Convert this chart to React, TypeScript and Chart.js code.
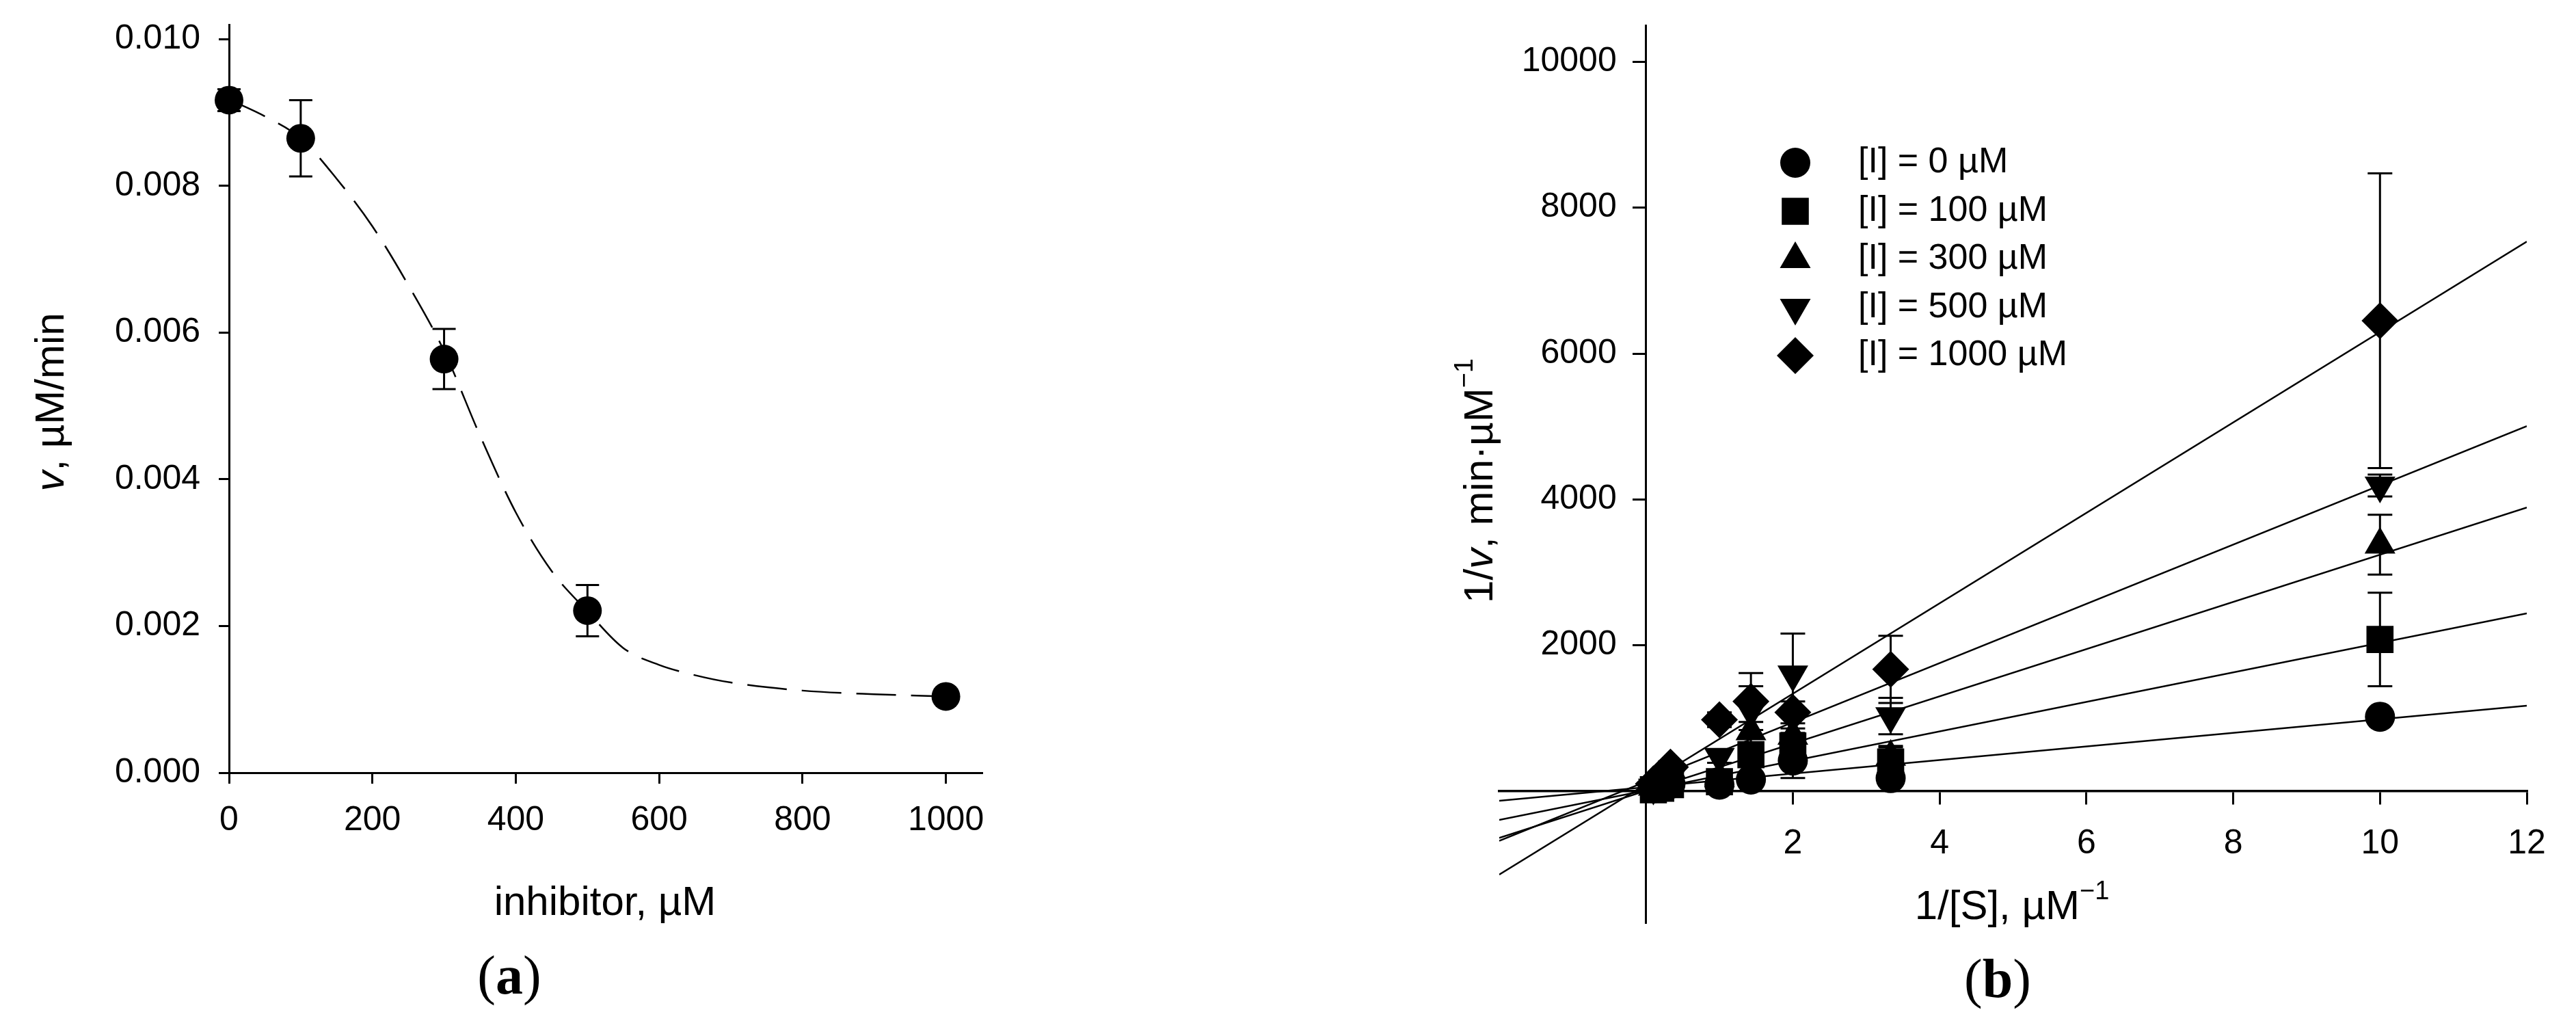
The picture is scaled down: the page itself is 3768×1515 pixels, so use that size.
import React, { useEffect, useRef } from 'react';
import { Chart, registerables, PointElement } from 'chart.js';

Chart.register(...registerables);

// ---------- Panel (a): rate vs inhibitor ----------
const inhibitorConc = [0, 100, 300, 500, 1000];
const rate = [0.00917, 0.00865, 0.00564, 0.00221, 0.00104];
const rateErr = [0.00015, 0.00052, 0.00041, 0.00035, 0];
const fitConc = [0, 50, 100, 150, 200, 250, 300, 350, 400, 450, 500, 550, 600, 650, 700, 800, 900, 1000];
const fitRate = [0.00918, 0.00895, 0.00865, 0.0081, 0.00745, 0.00665, 0.00575, 0.0046, 0.00355, 0.00275, 0.0022, 0.0017, 0.00147, 0.00133, 0.00123, 0.00112, 0.00107, 0.00104];
const aXTicks = [0, 200, 400, 600, 800, 1000];
const aYTicks = [0, 0.002, 0.004, 0.006, 0.008, 0.01];

// ---------- Panel (b): Lineweaver-Burk ----------
const invS = [0.1, 0.2, 0.333, 1, 1.429, 2, 3.333, 10];
const seriesLabels = ['[I] = 0 µM', '[I] = 100 µM', '[I] = 300 µM', '[I] = 500 µM', '[I] = 1000 µM'];
const invV_I0 = [40, 70, 100, 90, 160, 420, 180, 1020];
const err_I0 = [20, 20, 30, 40, 60, 240, 100, 100];
const invV_I100 = [20, 40, 90, 130, 500, 620, 400, 2080];
const err_I100 = [20, 20, 30, 50, 120, 180, 200, 640];
const invV_I300 = [60, 120, 300, 180, 820, 760, 470, 3380];
const err_I300 = [30, 40, 60, 60, 620, 100, 150, 410];
const invV_I500 = [50, 90, 180, 470, 1100, 1600, 1030, 4190];
const err_I500 = [20, 30, 40, 80, 150, 560, 250, 150];
const invV_I1000 = [100, 180, 330, 980, 1230, 1080, 1670, 6450];
const err_I1000 = [30, 40, 80, 100, 390, 150, 460, 2020];
const fitLineX = [-2, 12];
const fitLineStart = [-131, -394, -640, -680, -1143];
const fitLineEnd = [1171, 2437, 3890, 5005, 7535];
const bXTicks = [2, 4, 6, 8, 10, 12];
const bYTicks = [2000, 4000, 6000, 8000, 10000];

const seriesValues = [invV_I0, invV_I100, invV_I300, invV_I500, invV_I1000];
const seriesErrors = [err_I0, err_I100, err_I300, err_I500, err_I1000];
const markerStyles = ['circle', 'rect', 'triangle', 'triangle', 'rectRot'];
const markerRotation = [0, 0, 0, 180, 0];
const markerRadius = [22, 28, 26, 26, 27];

const SANS = '"Liberation Sans", Arial, sans-serif';
const SERIF = '"Liberation Serif", "Times New Roman", serif';

type Part = { text: string; font: string; dy?: number };

function drawParts(ctx: CanvasRenderingContext2D, parts: Part[], x: number, y: number, rotate = false) {
  ctx.save();
  ctx.translate(x, y);
  if (rotate) ctx.rotate(-Math.PI / 2);
  ctx.textBaseline = 'middle';
  ctx.textAlign = 'left';
  ctx.fillStyle = '#000';
  let total = 0;
  const widths = parts.map((p) => {
    ctx.font = p.font;
    const w = ctx.measureText(p.text).width;
    total += w;
    return w;
  });
  let cx = -total / 2;
  parts.forEach((p, i) => {
    ctx.font = p.font;
    ctx.fillText(p.text, cx, p.dy || 0);
    cx += widths[i];
  });
  ctx.restore();
}

const errorBarPlugin = {
  id: 'errorBars',
  beforeDatasetsDraw(chart: any, _args: any, opts: any) {
    const ctx = chart.ctx;
    const yScale = chart.scales.y;
    chart.data.datasets.forEach((ds: any, di: number) => {
      if (!ds.errors) return;
      const meta = chart.getDatasetMeta(di);
      ctx.save();
      ctx.strokeStyle = '#000';
      ctx.lineWidth = opts.lineWidth || 3;
      meta.data.forEach((pt: any, i: number) => {
        const e = ds.errors[i];
        if (!e) return;
        const v = ds.data[i].y;
        const yTop = yScale.getPixelForValue(v + e);
        const yBot = yScale.getPixelForValue(v - e);
        const c = opts.capHalf || 17;
        ctx.beginPath();
        ctx.moveTo(pt.x, yTop);
        ctx.lineTo(pt.x, yBot);
        ctx.moveTo(pt.x - c, yTop);
        ctx.lineTo(pt.x + c, yTop);
        ctx.moveTo(pt.x - c, yBot);
        ctx.lineTo(pt.x + c, yBot);
        ctx.stroke();
      });
      ctx.restore();
    });
  },
};

const textPluginA = {
  id: 'textA',
  afterDraw(chart: any) {
    const ctx = chart.ctx as CanvasRenderingContext2D;
    drawParts(ctx, [
      { text: 'v', font: `italic 60px ${SANS}` },
      { text: ', µM/min', font: `60px ${SANS}` },
    ], 76, 588, true);
    drawParts(ctx, [{ text: 'inhibitor, µM', font: `60px ${SANS}` }], 885, 1321);
    drawParts(ctx, [
      { text: '(', font: `80px ${SERIF}` },
      { text: 'a', font: `bold 80px ${SERIF}` },
      { text: ')', font: `80px ${SERIF}` },
    ], 745, 1432);
  },
};

const textPluginB = {
  id: 'textB',
  afterDraw(chart: any) {
    const ctx = chart.ctx as CanvasRenderingContext2D;
    const xs = chart.scales.x;
    const ys = chart.scales.y;

    // y tick labels, to the left of the y axis that sits at x = 0
    const x0 = xs.getPixelForValue(0);
    ctx.save();
    ctx.fillStyle = '#000';
    ctx.font = `50px ${SANS}`;
    ctx.textAlign = 'right';
    ctx.textBaseline = 'middle';
    bYTicks.forEach((v) => ctx.fillText(String(v), x0 - 18 - 25, ys.getPixelForValue(v)));
    ctx.restore();

    drawParts(ctx, [
      { text: '1/', font: `60px ${SANS}` },
      { text: 'v', font: `italic 60px ${SANS}` },
      { text: ', min·µM', font: `60px ${SANS}` },
      { text: '−1', font: `38px ${SANS}`, dy: -22 },
    ], 166, 703, true);
    drawParts(ctx, [
      { text: '1/[S], µM', font: `60px ${SANS}` },
      { text: '−1', font: `38px ${SANS}`, dy: -22 },
    ], 943, 1327);
    drawParts(ctx, [
      { text: '(', font: `80px ${SERIF}` },
      { text: 'b', font: `bold 80px ${SERIF}` },
      { text: ')', font: `80px ${SERIF}` },
    ], 922, 1437);

    // legend
    const rows = [238, 309, 379, 450, 520];
    seriesLabels.forEach((label, i) => {
      const el: any = new PointElement({});
      el.x = 626;
      el.y = rows[i];
      el.options = {
        pointStyle: markerStyles[i],
        rotation: markerRotation[i],
        radius: markerRadius[i],
        backgroundColor: '#000',
        borderColor: '#000',
        borderWidth: 0,
      };
      el.draw(ctx);
      ctx.save();
      ctx.fillStyle = '#000';
      ctx.font = `52px ${SANS}`;
      ctx.textBaseline = 'middle';
      ctx.textAlign = 'left';
      ctx.fillText(label, 718, rows[i]);
      ctx.restore();
    });
  },
};

const tickFont = { family: SANS, size: 50 };

function zeroPadding(s: any) {
  s.paddingTop = 0;
  s.paddingBottom = 0;
  s.paddingLeft = 0;
  s.paddingRight = 0;
}

export default function App() {
  const refA = useRef<HTMLCanvasElement>(null);
  const refB = useRef<HTMLCanvasElement>(null);

  useEffect(() => {
    const chartA = new Chart(refA.current as HTMLCanvasElement, {
      type: 'scatter',
      data: {
        datasets: [
          {
            type: 'line',
            data: fitConc.map((x, i) => ({ x, y: fitRate[i] })),
            borderColor: '#000',
            borderWidth: 2.5,
            borderDash: [58, 22],
            pointRadius: 0,
            cubicInterpolationMode: 'monotone',
            fill: false,
            order: 2,
          } as any,
          {
            data: inhibitorConc.map((x, i) => ({ x, y: rate[i] })),
            errors: rateErr,
            pointStyle: 'circle',
            pointRadius: 21,
            backgroundColor: '#000',
            borderColor: '#000',
            borderWidth: 0,
            clip: false,
            order: 1,
          } as any,
        ],
      },
      options: {
        responsive: false,
        animation: false,
        devicePixelRatio: 1,
        layout: { padding: { left: 0, top: 36, right: 64, bottom: 0 } },
        plugins: {
          legend: { display: false },
          tooltip: { enabled: false },
          errorBars: { capHalf: 17, lineWidth: 3 },
        } as any,
        scales: {
          x: {
            type: 'linear',
            position: 'bottom',
            min: 0,
            max: 1050,
            afterBuildTicks: (s: any) => { s.ticks = aXTicks.map((v) => ({ value: v })); },
            afterFit: (s: any) => { s.height = 385; zeroPadding(s); },
            grid: { drawOnChartArea: false, drawTicks: true, tickLength: 16, color: '#000', lineWidth: 3 },
            border: { color: '#000', width: 3 },
            ticks: { color: '#000', font: tickFont, padding: 24, maxRotation: 0, autoSkip: false, callback: (v: any) => String(v) },
          },
          y: {
            type: 'linear',
            position: 'left',
            min: 0,
            max: 0.0102,
            afterBuildTicks: (s: any) => { s.ticks = aYTicks.map((v) => ({ value: v })); },
            afterFit: (s: any) => { s.width = 335; zeroPadding(s); },
            grid: { drawOnChartArea: false, drawTicks: true, tickLength: 15, color: '#000', lineWidth: 3 },
            border: { color: '#000', width: 3 },
            ticks: { color: '#000', font: tickFont, padding: 27, autoSkip: false, callback: (v: any) => Number(v).toFixed(3) },
          },
        },
      } as any,
      plugins: [errorBarPlugin, textPluginA],
    });

    const lineDatasets = fitLineStart.map((y0, i) => ({
      type: 'line',
      data: [{ x: fitLineX[0], y: y0 }, { x: fitLineX[1], y: fitLineEnd[i] }],
      borderColor: '#000',
      borderWidth: 2.5,
      pointRadius: 0,
      fill: false,
      order: 10,
    }));
    const pointDatasets = seriesValues.map((vals, i) => ({
      label: seriesLabels[i],
      data: invS.map((x, j) => ({ x, y: vals[j] })),
      errors: seriesErrors[i],
      pointStyle: markerStyles[i],
      rotation: markerRotation[i],
      pointRadius: markerRadius[i],
      backgroundColor: '#000',
      borderColor: '#000',
      borderWidth: 0,
      clip: false,
      order: 5 - i,
    }));

    const chartB = new Chart(refB.current as HTMLCanvasElement, {
      type: 'scatter',
      data: { datasets: [...lineDatasets, ...pointDatasets] as any },
      options: {
        responsive: false,
        animation: false,
        devicePixelRatio: 1,
        layout: { padding: { left: 193, top: 37, right: 72, bottom: 166 } },
        plugins: {
          legend: { display: false },
          tooltip: { enabled: false },
          errorBars: { capHalf: 18, lineWidth: 3 },
        } as any,
        scales: {
          x: {
            type: 'linear',
            position: { y: 0 },
            min: -2,
            max: 12,
            afterBuildTicks: (s: any) => { s.ticks = bXTicks.map((v) => ({ value: v })); },
            afterFit: (s: any) => { zeroPadding(s); },
            grid: { drawOnChartArea: false, drawTicks: true, tickLength: 18, color: '#000', lineWidth: 3 },
            border: { color: '#000', width: 3.5 },
            ticks: { color: '#000', font: tickFont, padding: 29, maxRotation: 0, autoSkip: false, callback: (v: any) => String(v) },
          },
          y: {
            type: 'linear',
            position: { x: 0 },
            min: -1800,
            max: 10500,
            afterBuildTicks: (s: any) => { s.ticks = bYTicks.map((v) => ({ value: v })); },
            afterFit: (s: any) => { zeroPadding(s); },
            grid: { drawOnChartArea: false, drawTicks: true, tickLength: 18, color: '#000', lineWidth: 3 },
            border: { color: '#000', width: 3 },
            ticks: { display: false, color: '#000', font: tickFont, autoSkip: false, callback: (v: any) => String(v) },
          },
        },
      } as any,
      plugins: [errorBarPlugin, textPluginB],
    });

    return () => {
      chartA.destroy();
      chartB.destroy();
    };
  }, []);

  return (
    <div style={{ position: 'fixed', left: 0, top: 0, width: 3768, height: 1515, background: '#fff', overflow: 'hidden' }}>
      <canvas ref={refA} width={1500} height={1515} style={{ position: 'absolute', left: 0, top: 0 }} />
      <canvas ref={refB} width={1768} height={1515} style={{ position: 'absolute', left: 2000, top: 0 }} />
    </div>
  );
}
